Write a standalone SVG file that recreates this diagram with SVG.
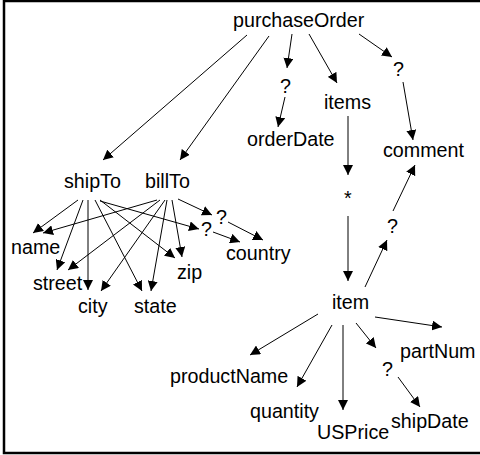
<svg xmlns="http://www.w3.org/2000/svg" width="480" height="455" viewBox="0 0 480 455">
  <style>
    text { font-family: "Liberation Sans", Arial, sans-serif; font-size: 19.7px; fill: #000; }
    .edge { stroke: #000; stroke-width: 1; fill: none; marker-end: url(#arrow); }
  </style>
  <defs>
    <marker id="arrow" viewBox="0 0 10 10" refX="10" refY="5" markerWidth="10" markerHeight="10" markerUnits="userSpaceOnUse" orient="auto">
      <path d="M0,0 L10,5 L0,10 Z" fill="#000"/>
    </marker>
  </defs>
  <rect x="4" y="1" width="480" height="452" fill="#fff" stroke="#000" stroke-width="2.5"/>

  <g id="connectors">
    <line class="edge" x1="247" y1="35" x2="103" y2="160"/>
    <line class="edge" x1="269" y1="36" x2="180" y2="160"/>
    <line class="edge" x1="292" y1="34" x2="287" y2="68"/>
    <line class="edge" x1="285" y1="97" x2="278" y2="127"/>
    <line class="edge" x1="309" y1="34" x2="337" y2="83"/>
    <line class="edge" x1="359" y1="34" x2="392" y2="57"/>
    <line class="edge" x1="403" y1="82" x2="413" y2="140"/>
    <line class="edge" x1="348" y1="116" x2="348" y2="175"/>
    <line class="edge" x1="348" y1="216" x2="348" y2="281"/>
    <line class="edge" x1="365" y1="287" x2="387" y2="240"/>
    <line class="edge" x1="393" y1="211" x2="415" y2="165"/>

    <line class="edge" x1="78" y1="200" x2="33" y2="233"/>
    <line class="edge" x1="157" y1="200" x2="43" y2="233"/>
    <line class="edge" x1="83" y1="200" x2="57" y2="270"/>
    <line class="edge" x1="160" y1="200" x2="68" y2="270"/>
    <line class="edge" x1="88" y1="200" x2="88" y2="290"/>
    <line class="edge" x1="165" y1="200" x2="101" y2="291"/>
    <line class="edge" x1="95" y1="200" x2="142" y2="291"/>
    <line class="edge" x1="167" y1="200" x2="151" y2="291"/>
    <line class="edge" x1="100" y1="200" x2="175" y2="258"/>
    <line class="edge" x1="172" y1="200" x2="182" y2="257"/>
    <line class="edge" x1="178" y1="199" x2="212" y2="215"/>
    <line class="edge" x1="100" y1="201" x2="199" y2="229"/>
    <line class="edge" x1="228" y1="222" x2="263" y2="240"/>
    <line class="edge" x1="213" y1="232" x2="240" y2="242"/>

    <line class="edge" x1="318" y1="314" x2="250" y2="355"/>
    <line class="edge" x1="332" y1="325" x2="297" y2="387"/>
    <line class="edge" x1="343" y1="325" x2="343" y2="410"/>
    <line class="edge" x1="356" y1="323" x2="376" y2="348"/>
    <line class="edge" x1="398" y1="377" x2="420" y2="407"/>
    <line class="edge" x1="375" y1="317" x2="442" y2="327"/>
  </g>

  <g id="purchaseOrder"><text x="233" y="27">purchaseOrder</text></g>
  <g id="opt-orderDate"><text x="280" y="93">?</text></g>
  <g id="items"><text x="324" y="109">items</text></g>
  <g id="opt-comment"><text x="393" y="76">?</text></g>
  <g id="orderDate"><text x="247" y="146">orderDate</text></g>
  <g id="comment"><text x="383" y="157">comment</text></g>
  <g id="shipTo"><text x="64" y="188">shipTo</text></g>
  <g id="billTo"><text x="145" y="188">billTo</text></g>
  <g id="opt-country-billTo"><text x="216" y="224">?</text></g>
  <g id="opt-country-shipTo"><text x="201" y="236">?</text></g>
  <g id="name"><text x="11" y="254">name</text></g>
  <g id="country"><text x="226" y="260">country</text></g>
  <g id="zip"><text x="177" y="279">zip</text></g>
  <g id="street"><text x="33" y="290">street</text></g>
  <g id="city"><text x="78" y="313">city</text></g>
  <g id="state"><text x="134" y="313">state</text></g>
  <g id="many-item"><text x="344" y="205">*</text></g>
  <g id="opt-item-comment"><text x="387" y="233">?</text></g>
  <g id="item"><text x="332" y="309">item</text></g>
  <g id="partNum"><text x="400" y="358">partNum</text></g>
  <g id="productName"><text x="170" y="383">productName</text></g>
  <g id="opt-shipDate"><text x="382" y="376">?</text></g>
  <g id="quantity"><text x="250" y="418">quantity</text></g>
  <g id="USPrice"><text x="317" y="439">USPrice</text></g>
  <g id="shipDate"><text x="391" y="428">shipDate</text></g>
</svg>
